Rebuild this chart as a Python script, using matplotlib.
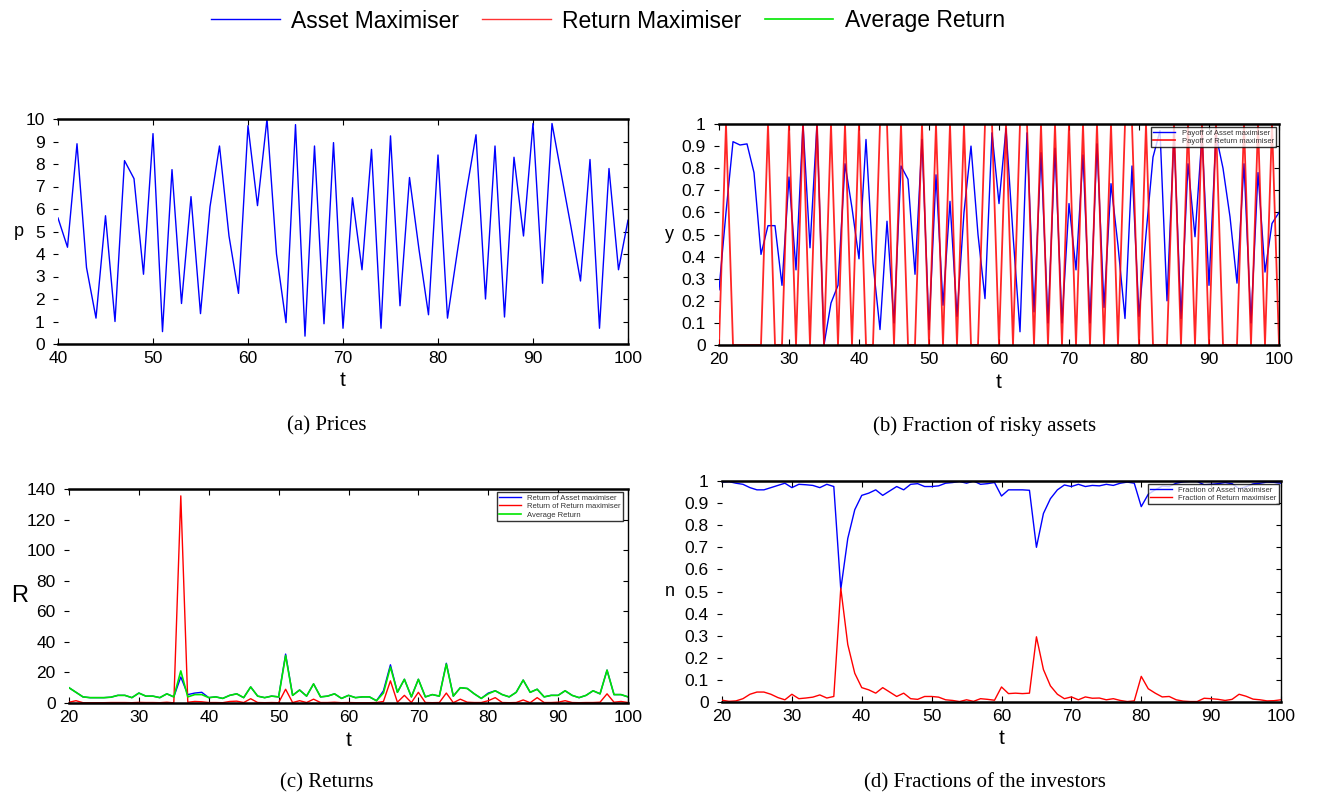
import numpy as np
import matplotlib
matplotlib.use("Agg")
import matplotlib.pyplot as plt
from matplotlib.lines import Line2D

plt.rcParams['font.family'] = ['Liberation Sans', 'DejaVu Sans']

# ---------------- data ----------------
t_prices = list(range(40, 101))
prices = [5.6, 4.3, 8.9, 3.4, 1.15, 5.7, 1.0, 8.15, 7.35, 3.1,
          9.35, 0.55, 7.75, 1.8, 6.55, 1.35, 6.1, 8.8, 4.8, 2.25,
          9.7, 6.15, 10.0, 4.0, 0.95, 9.75, 0.35, 8.8, 0.9, 8.95,
          0.7, 6.5, 3.3, 8.65, 0.7, 9.25, 1.7, 7.4, 4.2, 1.3,
          8.4, 1.15, 4.0, 6.8, 9.3, 2.0, 8.8, 1.2, 8.3, 4.8,
          9.8, 2.7, 9.8, 7.5, 5.2, 2.8, 8.2, 0.7, 7.8, 3.3, 5.5]

t_main = list(range(20, 101))
payoff_asset = [0.25, 0.6, 0.92, 0.905, 0.91, 0.78, 0.41, 0.54, 0.54, 0.27,
                0.76, 0.34, 1.0, 0.44, 1.0, 0.0, 0.19, 0.27, 0.82, 0.62,
                0.39, 0.93, 0.37, 0.07, 0.56, 0.10, 0.81, 0.75, 0.32, 0.93,
                0.07, 0.77, 0.18, 0.65, 0.13, 0.60, 0.90, 0.50, 0.21, 0.96,
                0.64, 0.98, 0.50, 0.06, 0.96, 0.15, 0.87, 0.10, 0.89, 0.10,
                0.64, 0.34, 0.86, 0.10, 0.91, 0.17, 0.73, 0.45, 0.12, 0.81,
                0.13, 0.50, 0.85, 0.97, 0.20, 0.95, 0.12, 0.82, 0.49, 0.95,
                0.27, 0.95, 0.80, 0.58, 0.28, 0.82, 0.10, 0.78, 0.33, 0.55, 0.60]
payoff_return = [0, 1, 0, 0, 0, 0, 0, 1, 0, 0,
                 1, 0, 1, 0, 1, 0, 1, 0, 1, 0,
                 1, 0, 0, 1, 1, 0, 1, 0, 0, 1,
                 0, 1, 0, 1, 0, 1, 0, 0, 1, 1,
                 0, 1, 0, 1, 1, 0, 1, 0, 1, 0,
                 1, 0, 1, 0, 1, 0, 1, 0, 1, 1,
                 0, 1, 0, 0, 0, 1, 0, 1, 0, 1,
                 0, 1, 0, 0, 0, 1, 0, 1, 0, 1, 0]

ret_asset = [10, 7, 4, 3.5, 3.5, 3.5, 3.8, 5, 5, 3.5,
             6.5, 4.5, 4.5, 3.5, 6, 4, 17, 5.5, 6.5, 7,
             3.5, 4, 3, 5, 6, 3.5, 10.5, 4.5, 3.5, 4.5,
             4, 32, 5, 8.5, 4.5, 12.5, 4, 4.5, 6, 3,
             5, 3.5, 4, 4, 1.5, 8, 25, 7, 15.5, 4,
             15.5, 4, 5.5, 4.5, 26, 4.5, 10, 9.5, 6, 3,
             6.5, 8, 5.5, 4, 7, 15, 7, 9, 4, 5,
             5, 8, 5, 3.5, 5, 8, 6, 21.5, 5.5, 5.5, 4]
ret_return = [0.5, 1.5, 0.2, 0.2, 0.2, 0.2, 0.3, 0.3, 0.3, 0.2,
              0.4, 0.3, 0.3, 0.2, 0.5, 0.1, 135.5, 0.5, 1.0, 0.8,
              0.3, 0.3, 0.2, 1.0, 1.2, 0.3, 2.8, 0.3, 0.2, 0.3,
              0.2, 9.0, 0.3, 1.5, 0.3, 2.5, 0.3, 0.3, 0.5, 0.2,
              0.3, 0.2, 0.2, 0.2, 0.3, 1.0, 14.5, 0.5, 5.0, 0.3,
              7.0, 0.3, 0.2, 0.3, 6.5, 0.2, 2.5, 0.5, 0.3, 0.3,
              1.5, 3.5, 0.3, 0.2, 0.3, 2.0, 0.2, 3.5, 0.3, 0.3,
              0.5, 1.5, 0.3, 0.2, 0.3, 0.3, 0.5, 6.0, 0.5, 1.0, 0.3]
ret_average = [10, 7, 4, 3.5, 3.5, 3.5, 3.8, 5, 5, 3.5,
               6.5, 4.5, 4.5, 3.5, 6, 4, 21, 4, 5.5, 5.5,
               3.5, 4, 3, 5, 6, 3.5, 10.5, 4.5, 3.5, 4.5,
               4, 31, 5, 8.5, 4.5, 12.5, 4, 4.5, 6, 3,
               5, 3.5, 4, 4, 1.5, 6.5, 23.5, 7, 15.5, 4,
               15.5, 4, 5.5, 4.5, 25.5, 4.5, 10, 9.5, 6, 3,
               6, 8, 5.5, 4, 7, 15, 7, 9, 4, 5,
               5, 8, 5, 3.5, 5, 8, 6, 21.5, 5.5, 5.5, 4]

frac_asset = [0.995, 0.997, 0.99, 0.985, 0.97, 0.96, 0.96, 0.97, 0.98, 0.99,
              0.97, 0.985, 0.983, 0.98, 0.97, 0.985, 0.975, 0.51, 0.74, 0.87,
              0.935, 0.945, 0.96, 0.935, 0.955, 0.975, 0.96, 0.985, 0.988, 0.975,
              0.975, 0.978, 0.99, 0.993, 0.998, 0.99, 1.0, 0.985, 0.988, 0.993,
              0.932, 0.96, 0.96, 0.96, 0.958, 0.70, 0.853, 0.92, 0.96, 0.982,
              0.975, 0.985, 0.975, 0.98, 0.978, 0.985, 0.98, 0.99, 0.995, 0.99,
              0.884, 0.94, 0.96, 0.977, 0.975, 0.99, 0.996, 0.998, 0.998, 0.983,
              0.985, 0.988, 0.993, 0.988, 0.965, 0.974, 0.987, 0.99, 0.995, 0.994, 0.99]
frac_return = [0.008, 0.003, 0.005, 0.015, 0.035, 0.045, 0.045, 0.035, 0.02, 0.01,
               0.035, 0.015, 0.018, 0.022, 0.032, 0.018, 0.025, 0.515, 0.26, 0.13,
               0.065, 0.055, 0.04, 0.065, 0.045, 0.025, 0.04, 0.015, 0.012, 0.025,
               0.025, 0.022, 0.01, 0.007, 0.002, 0.01, 0.003, 0.015, 0.012, 0.008,
               0.068, 0.038, 0.04, 0.038, 0.04, 0.295, 0.147, 0.073, 0.035, 0.015,
               0.023, 0.01, 0.023, 0.017, 0.018, 0.01, 0.015, 0.007, 0.002, 0.005,
               0.116, 0.06, 0.04, 0.023, 0.025, 0.01, 0.004, 0.002, 0.002, 0.017,
               0.015, 0.012, 0.007, 0.012, 0.035, 0.026, 0.013, 0.01, 0.005, 0.006, 0.01]

xticks_a = [40, 50, 60, 70, 80, 90, 100]
xticks_main = [20, 30, 40, 50, 60, 70, 80, 90, 100]
yticks_a = [0, 1, 2, 3, 4, 5, 6, 7, 8, 9, 10]
yticks_frac = [0, 0.1, 0.2, 0.3, 0.4, 0.5, 0.6, 0.7, 0.8, 0.9, 1]
yticklabels_frac = ['0', '0.1', '0.2', '0.3', '0.4', '0.5', '0.6', '0.7', '0.8', '0.9', '1']
yticks_c = [0, 20, 40, 60, 80, 100, 120, 140]

BLUE = '#0000ff'
RED = '#ff0000'
GREEN = '#00e600'

W, H = 1322, 796
fig = plt.figure(figsize=(W / 100, H / 100), dpi=100)


def add_ax(l, t, r, b):
    return fig.add_axes([l / W, 1 - b / H, (r - l) / W, (b - t) / H])


def style(ax, fs):
    ax.spines['left'].set_visible(False)
    ax.spines['top'].set_linewidth(1.8)
    ax.spines['bottom'].set_linewidth(1.8)
    ax.spines['right'].set_linewidth(1.0)
    ax.tick_params(axis='y', which='both', left=True, right=True,
                   length=3.5, width=0.8, pad=6, labelsize=fs)
    ax.tick_params(axis='x', which='both', top=True, bottom=True, direction='in',
                   length=4, width=0.8, pad=5, labelsize=fs)
    # left ticks outward, right ticks inward
    for tk in ax.yaxis.get_major_ticks():
        tk.tick1line.set_marker(matplotlib.lines.TICKLEFT)
        tk.tick2line.set_marker(matplotlib.lines.TICKLEFT)


def small_legend(ax, x, y):
    leg = ax.legend(loc='upper right', bbox_to_anchor=(x / W, 1 - y / H),
                    bbox_transform=fig.transFigure, fontsize=5.5, frameon=True,
                    fancybox=False, handlelength=2.9, handletextpad=0.8,
                    borderpad=0.3, labelspacing=0.15, borderaxespad=0)
    leg.get_frame().set_edgecolor('black')
    leg.get_frame().set_linewidth(1.0)
    for txt in leg.get_texts():
        txt.set_color('#333333')


# ---- (a) Prices ----
ax = add_ax(58, 119, 628, 344)
ax.plot(t_prices, prices, color=BLUE, lw=1.0)
ax.set_xlim(40, 100)
ax.set_ylim(0, 10)
ax.set_xticks(xticks_a)
ax.set_yticks(yticks_a)
style(ax, 12.5)
ax.set_xlabel('t', fontsize=15, labelpad=4)
ax.set_ylabel('p', fontsize=13, rotation=0, labelpad=5, va='center')

# ---- (b) Fraction of risky assets ----
ax = add_ax(719, 124, 1279, 345)
ax.plot(t_main, payoff_asset, color=BLUE, lw=1.0, label='Payoff of Asset maximiser')
ax.plot(t_main, payoff_return, color=RED, lw=1.3, alpha=0.85, label='Payoff of Return maximiser')
ax.set_xlim(20, 100)
ax.set_ylim(0, 1)
ax.set_xticks(xticks_main)
ax.set_yticks(yticks_frac)
ax.set_yticklabels(yticklabels_frac)
style(ax, 12.5)
ax.set_xlabel('t', fontsize=15, labelpad=4)
ax.set_ylabel('y', fontsize=13, rotation=0, labelpad=9, va='center')
small_legend(ax, 1276, 127)

# ---- (c) Returns ----
ax = add_ax(69, 489, 628, 703)
ax.plot(t_main, ret_asset, color=BLUE, lw=1.0, label='Return of Asset maximiser')
ax.plot(t_main, ret_return, color=RED, lw=1.0, label='Return of Return maximiser')
ax.plot(t_main, ret_average, color=GREEN, lw=1.2, label='Average Return')
ax.set_xlim(20, 100)
ax.set_ylim(0, 140)
ax.set_xticks(xticks_main)
ax.set_yticks(yticks_c)
style(ax, 12.5)
ax.set_xlabel('t', fontsize=15, labelpad=4)
ax.set_ylabel('R', fontsize=17, rotation=0, labelpad=5, va='center')
small_legend(ax, 623, 492)

# ---- (d) Fractions of the investors ----
ax = add_ax(722, 481, 1281, 702)
ax.plot(t_main, frac_asset, color=BLUE, lw=1.0, label='Fraction of Asset maximiser')
ax.plot(t_main, frac_return, color=RED, lw=1.0, label='Fraction of Return maximiser')
ax.set_xlim(20, 100)
ax.set_ylim(0, 1)
ax.set_xticks(xticks_main)
ax.set_yticks(yticks_frac)
ax.set_yticklabels(yticklabels_frac)
style(ax, 12.5)
ax.set_xlabel('t', fontsize=15, labelpad=4)
ax.set_ylabel('n', fontsize=13, rotation=0, labelpad=10.5, va='center')
small_legend(ax, 1279, 484)

# ---- captions ----
cap_font = dict(family=['Liberation Serif', 'DejaVu Serif'], fontsize=15, ha='center', va='center')
fig.text(327 / W, 1 - 426 / H, '(a) Prices', **cap_font)
fig.text(985 / W, 1 - 426 / H, '(b) Fraction of risky assets', **cap_font)
fig.text(327 / W, 1 - 783 / H, '(c) Returns', **cap_font)
fig.text(985 / W, 1 - 783 / H, '(d) Fractions of the investors', **cap_font)

# ---- top legend ----
handles = [Line2D([], [], color=BLUE, lw=1.0),
           Line2D([], [], color=RED, lw=1.0, alpha=0.8),
           Line2D([], [], color=GREEN, lw=1.2)]
labels = ['Asset Maximiser', 'Return Maximiser', 'Average Return']
fig.legend(handles, labels, loc='center', bbox_to_anchor=(608 / W, 1 - 21 / H),
           ncol=3, frameon=False, fontsize=16.5, handlelength=3.0,
           handletextpad=0.5, columnspacing=1.0)

fig.savefig('out.png', dpi=100)
